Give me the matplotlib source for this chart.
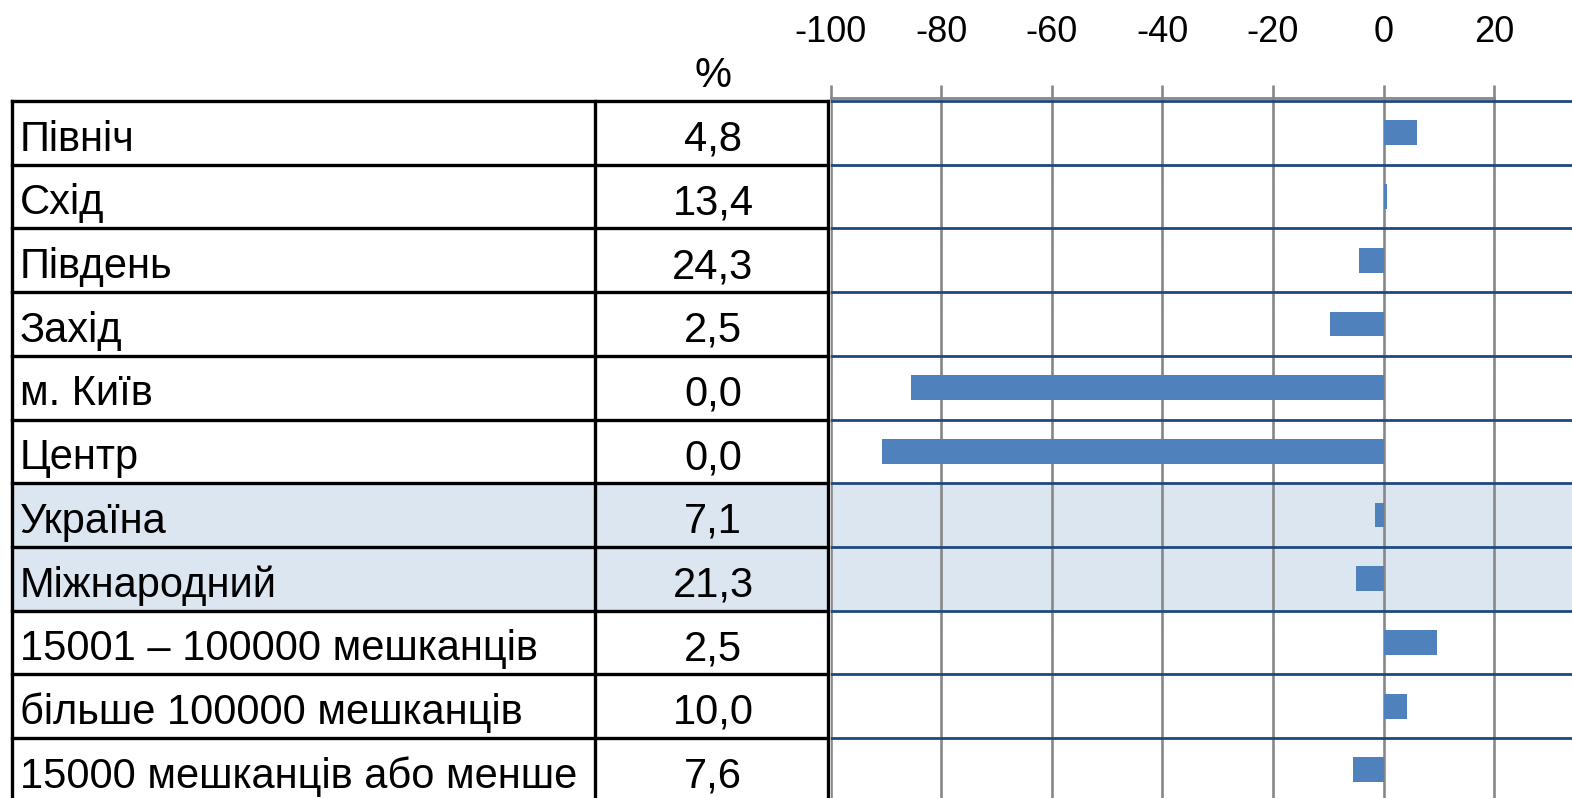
import matplotlib
matplotlib.use("Agg")
import matplotlib.pyplot as plt

plt.rcParams['font.family'] = ['Liberation Sans', 'DejaVu Sans']
plt.rcParams['axes.unicode_minus'] = False

labels = ['Північ', 'Схід', 'Південь', 'Захід', 'м. Київ', 'Центр',
          'Україна', 'Міжнародний', '15001 – 100000 мешканців',
          'більше 100000 мешканців', '15000 мешканців або менше']
pct = ['4,8', '13,4', '24,3', '2,5', '0,0', '0,0', '7,1', '21,3', '2,5', '10,0', '7,6']
values = [6.1, 0.7, -4.4, -9.6, -85.4, -90.7, -1.5, -5.0, 9.6, 4.2, -5.5]
highlight = [6, 7]
xticks = [-100, -80, -60, -40, -20, 0, 20]

W, H = 1572, 798
fig = plt.figure(figsize=(W / 100, H / 100), dpi=100)

# pixel layout
row_top, row_h = 101, 63.7
ax_top = 98
x_left = 830.5
px_per_unit = 5.53
y0 = (ax_top - row_top) / row_h
y1 = (H - row_top) / row_h

bar_color = '#4F81BD'
line_blue = '#1F497D'
fill_col = '#DCE6F1'
grid_col = '#878787'

# bar chart
ax = fig.add_axes([x_left / W, 0, 1 - x_left / W, 1 - ax_top / H])
ax.set_xlim(-100, -100 + (W - x_left) / px_per_unit)
ax.set_ylim(y1, y0)
n = len(labels)
for i in highlight:
    ax.axhspan(i, i + 1, color=fill_col, lw=0, zorder=0)
ax.grid(axis='x', color=grid_col, lw=1.9, zorder=1)
ax.set_axisbelow(True)
for k in range(n + 1):
    ax.axhline(k, color=line_blue, lw=2.0, zorder=2)
ax.barh([i + 0.5 for i in range(n)], values, height=0.39, color=bar_color, zorder=3)

for s in ['left', 'right', 'bottom']:
    ax.spines[s].set_visible(False)
ax.spines['top'].set_color(grid_col)
ax.spines['top'].set_linewidth(2.0)
ax.spines['top'].set_bounds(-100, 20)
ax.xaxis.tick_top()
ax.set_xticks(xticks)
ax.tick_params(axis='x', length=9.4, width=1.9, color=grid_col, labelsize=26, pad=25.5)
ax.set_yticks([])
ax.set_facecolor('none')

# table
tax = fig.add_axes([0, 0, x_left / W, 1 - ax_top / H])
tax.set_xlim(0, x_left)
tax.set_ylim(y1, y0)
tax.axis('off')
for i in highlight:
    tax.fill_between([12, 828], i, i + 1, color=fill_col, lw=0, zorder=0)
for k in range(n + 1):
    tax.plot([12, 828], [k, k], color='black', lw=2.4, zorder=2, clip_on=False, solid_capstyle='projecting')
for x in [12, 595, 828]:
    tax.plot([x, x], [0, n], color='black', lw=2.4, zorder=2, clip_on=False)
for i in range(n):
    tax.text(20, i + 0.78, labels[i], fontsize=30, va='baseline', ha='left')
    tax.text(713, i + 0.78, pct[i], fontsize=30, va='baseline', ha='center')
tax.text(713, -0.22, '%', fontsize=30, va='baseline', ha='center', clip_on=False)

fig.savefig('out.png', dpi=100)
